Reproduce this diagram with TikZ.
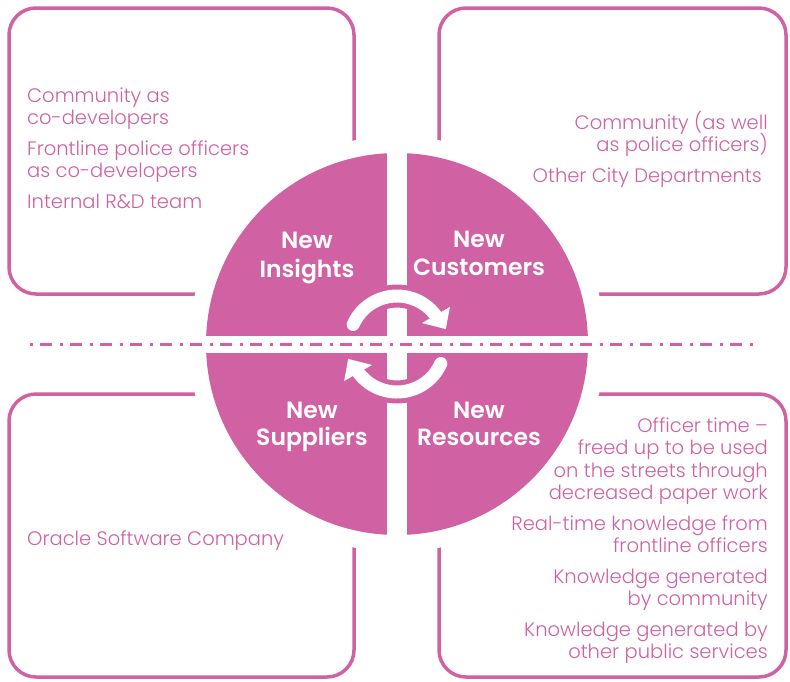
\documentclass[tikz,border=0pt]{standalone}
\usepackage{fontspec}
\setmainfont{Poppins}[UprightFont={* Light},BoldFont={* SemiBold}]
\definecolor{pk}{RGB}{208,98,163}
\begin{document}
\begin{tikzpicture}[x=1pt,y=-1pt,
  box/.style={draw=pk,line width=3.5pt,rounded corners=27pt},
  body/.style={text=pk,font=\fontsize{19.5}{22}\selectfont,inner sep=0pt},
  lt/.style={body,anchor=base west},
  rt/.style={body,anchor=base east},
  head/.style={text=white,font=\fontsize{23.5}{28}\bfseries\selectfont,inner sep=0pt,anchor=base},
  halo/.style={draw=pk,line width=23pt},
  arc/.style={draw=white,line width=13pt,line cap=round},
]
\useasboundingbox (0,0) rectangle (790,681);
\fill[white] (0,0) rectangle (790,681);
% boxes
\draw[box] (9,8) rectangle (354,294);
\draw[box] (439,8) rectangle (786,294);
\draw[box] (9,394) rectangle (354,677);
\draw[box] (439,394) rectangle (786,677);
% circle
\coordinate (c) at (397,344);
\fill[white] (c) circle[radius=208];
\fill[pk] (c) circle[radius=191];
\fill[white] (387,140) rectangle (407,548);
\fill[white] (190,336) rectangle (604,353);
\draw[pk,line width=2.5pt,dash pattern=on 3pt off 7.5pt on 12pt off 7.5pt] (29.5,344.3) -- (757,344.3);
% arrows
\draw[halo] ([shift={(-118:48)}]c) arc[start angle=-118,end angle=-62,radius=48];
\draw[arc] ([shift={(-156:48)}]c) arc[start angle=-156,end angle=-37,radius=48];
\fill[white] ([shift={(-40:32.6)}]c) -- ([shift={(-35:64.6)}]c) -- ([shift={(-17:51)}]c) -- cycle;
\draw[halo] ([shift={(62:48)}]c) arc[start angle=62,end angle=118,radius=48];
\draw[arc] ([shift={(24:48)}]c) arc[start angle=24,end angle=143,radius=48];
\fill[white] ([shift={(140:32.6)}]c) -- ([shift={(145:64.6)}]c) -- ([shift={(163:51)}]c) -- cycle;
% headers
\node[head] (i1) at (307,248) {New};
\node[head] (i2) at (307,277) {Insights};
\node[head] (c1) at (479,247) {New};
\node[head] (c2) at (479,275) {Customers};
\node[head] (s1) at (312,418) {New};
\node[head] (s2) at (312,445) {Suppliers};
\node[head] (r1) at (479,418) {New};
\node[head] (r2) at (479,445) {Resources};
% top left
\node[lt] (tl1) at (27,102) {Community as};
\node[lt] (tl2) at (27,124) {co-developers};
\node[lt] (tl3) at (27,155) {Frontline police officers};
\node[lt] (tl4) at (27,177) {as co-developers};
\node[lt] (tl5) at (27,208) {Internal R\&D team};
% top right
\node[rt] (tr1) at (768,129) {Community (as well};
\node[rt] (tr2) at (768,151) {as police officers)};
\node[rt] (tr3) at (762,182) {Other City Departments};
% bottom left
\node[lt] (bl1) at (27,545) {Oracle Software Company};
% bottom right
\node[rt] (br1) at (768,432) {Officer time –};
\node[rt] (br2) at (768,454.5) {freed up to be used};
\node[rt] (br3) at (768,477) {on the streets through};
\node[rt] (br4) at (768,499.5) {decreased paper work};
\node[rt] (br5) at (768,530) {Real-time knowledge from};
\node[rt] (br6) at (768,552.5) {frontline officers};
\node[rt] (br7) at (768,583) {Knowledge generated};
\node[rt] (br8) at (768,605.5) {by community};
\node[rt] (br9) at (768,636) {Knowledge generated by};
\node[rt] (br10) at (768,658.5) {other public services};
\end{tikzpicture}
\end{document}
